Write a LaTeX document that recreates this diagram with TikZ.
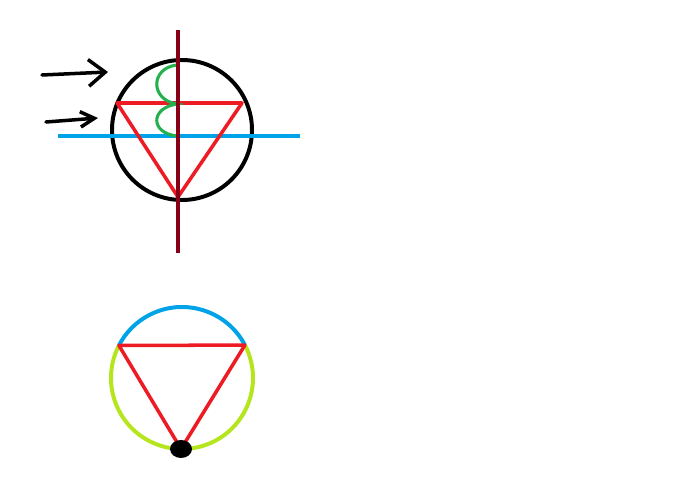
\documentclass[tikz,border=0pt]{standalone}
\usetikzlibrary{arrows.meta,positioning}
\definecolor{paintred}{RGB}{237,28,36}
\definecolor{paintmaroon}{RGB}{136,0,21}
\definecolor{paintblue}{RGB}{0,162,232}
\definecolor{paintgreen}{RGB}{34,177,76}
\definecolor{paintlime}{RGB}{181,230,29}

\begin{document}
\begin{tikzpicture}[x=0.03cm,y=0.03cm]
\tikzstyle{rim}=[draw=black,line width=3.4pt]
\tikzstyle{side}=[draw=paintred,line width=3pt,line join=round,line cap=round]
\tikzstyle{axis}=[line width=3.4pt]
\tikzstyle{push}=[line width=3pt,line cap=round]

\useasboundingbox (0,0) rectangle (694,491);

% top sketch
\coordinate (c1) at (182,361);
\coordinate (a1) at (117,388);
\coordinate (b1) at (242,388);
\coordinate (d1) at (178,294);
\coordinate (n1) at (178,461);
\coordinate (s1) at (178,238);
\coordinate (w1) at (58,355);
\coordinate (e1) at (300,355);

\draw[rim] (c1) circle[radius=70];
\draw[axis,draw=paintblue] (w1) -- (e1);
\draw[side] (a1) -- (b1) -- (d1) -- cycle;
\draw[paintgreen,line width=2.6pt,line cap=round]
  (177,426) .. controls (150,423) and (150,391) .. (177,387)
            .. controls (150,383) and (150,358) .. (177,355);
\draw[axis,draw=paintmaroon] (n1) -- (s1);

\coordinate (p1) at (42,416);
\coordinate (q1) at (108,419);
\coordinate (p2) at (46,369);
\coordinate (q2) at (98,373);
\draw[push,-{Straight Barb[length=0.5cm,width=0.8cm]}] (p1) -- (q1);
\draw[push,-{Straight Barb[length=0.42cm,width=0.46cm]}] (p2) -- (q2);

% bottom sketch
\coordinate (c2) at (182,113);
\coordinate (a2) at ([shift={(152.7:71)}]c2);
\coordinate (b2) at ([shift={(27.6:71)}]c2);
\coordinate (d2) at ([shift={(-90.8:71)}]c2);

\draw[rim,draw=paintlime] (c2) ++(152.7:71) arc[start angle=152.7,end angle=387.6,radius=71];
\draw[rim,draw=paintblue] (c2) ++(27.6:71) arc[start angle=27.6,end angle=152.7,radius=71];
\draw[side] (a2) -- (b2) -- (d2) -- cycle;
\fill[black] (d2) ellipse[x radius=11,y radius=9];
\end{tikzpicture}
\end{document}
